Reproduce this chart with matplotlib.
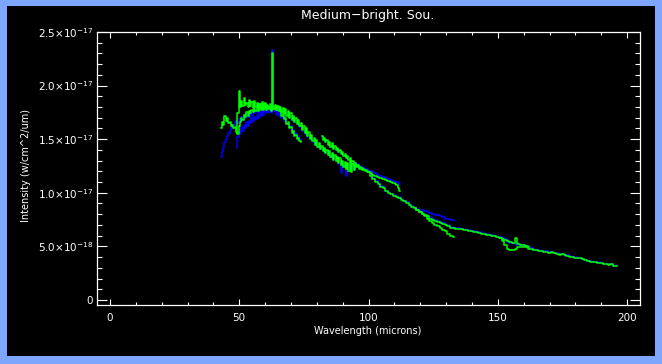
import matplotlib
matplotlib.use('Agg')
import matplotlib.pyplot as plt
from matplotlib.patches import Rectangle
from matplotlib.ticker import MultipleLocator, FixedLocator

# intensities are in units of 1e-17 W/cm2/um
SCALE = 1e-17

# detector SW1 (43 - 60 um)
sw1_wl = [43.0, 43.5, 44.0, 44.5, 45.0, 45.5, 46.0, 46.5, 47.0, 47.5,
          48.0, 48.5, 49.0, 49.5, 50.0, 50.5, 51.0, 51.5, 52.0, 52.5,
          53.0, 53.5, 54.0, 54.5, 55.0, 55.5, 56.0, 56.5, 57.0, 57.5,
          58.0, 58.5, 59.0, 59.5, 60.0]
sw1_blue = [1.33, 1.38, 1.42, 1.47, 1.50, 1.53, 1.56, 1.58, 1.60, 1.63,
            1.62, 1.66, 1.67, 1.65, 1.69, 1.66, 1.71, 1.68, 1.72, 1.70,
            1.74, 1.71, 1.73, 1.75, 1.72, 1.76, 1.74, 1.77, 1.75, 1.78,
            1.76, 1.74, 1.78, 1.76, 1.77]
sw1_green = [1.60, 1.66, 1.63, 1.72, 1.67, 1.70, 1.65, 1.66, 1.62, 1.63,
             1.60, 1.61, 1.57, 1.55, 1.62, 1.66, 1.70, 1.68, 1.73, 1.71,
             1.75, 1.72, 1.76, 1.74, 1.77, 1.75, 1.78, 1.76, 1.79, 1.77,
             1.80, 1.77, 1.79, 1.78, 1.80]

# detector SW2 (49 - 74 um), [OI] 63 um line
sw2_wl = [49.0, 49.5, 50.0, 50.5, 51.0, 51.5, 52.0, 52.5, 53.0, 53.5,
          54.0, 54.5, 55.0, 55.5, 56.0, 56.5, 57.0, 57.5, 58.0, 58.5,
          59.0, 59.5, 60.0, 60.5, 61.0, 61.5, 62.0, 62.5, 63.0, 63.5,
          64.0, 64.5, 65.0, 65.5, 66.0, 66.5, 67.0, 67.5, 68.0, 68.5,
          69.0, 69.5, 70.0, 70.5, 71.0, 71.5, 72.0, 72.5, 73.0, 73.5,
          74.0]
sw2_blue = [1.42, 1.52, 1.57, 1.55, 1.61, 1.58, 1.63, 1.60, 1.66, 1.62,
            1.67, 1.65, 1.70, 1.66, 1.71, 1.69, 1.73, 1.70, 1.74, 1.72,
            1.75, 1.73, 1.76, 1.74, 1.76, 1.75, 1.77, 1.74, 2.33, 1.76,
            1.77, 1.73, 1.76, 1.72, 1.74, 1.70, 1.71, 1.67, 1.68, 1.64,
            1.65, 1.61, 1.62, 1.58, 1.59, 1.55, 1.56, 1.52, 1.53, 1.50,
            1.49]
sw2_green = [1.56, 1.74, 1.95, 1.80, 1.86, 1.81, 1.88, 1.82, 1.84, 1.80,
             1.87, 1.81, 1.85, 1.79, 1.86, 1.80, 1.84, 1.79, 1.83, 1.78,
             1.85, 1.79, 1.82, 1.77, 1.81, 1.78, 1.80, 1.76, 2.30, 1.79,
             1.81, 1.77, 1.80, 1.76, 1.78, 1.72, 1.74, 1.69, 1.70, 1.64,
             1.66, 1.60, 1.61, 1.56, 1.58, 1.53, 1.54, 1.50, 1.51, 1.48,
             1.47]

# detector SW3 (57 - 95 um)
sw3_wl = [57.0, 57.5, 58.0, 58.5, 59.0, 59.5, 60.0, 60.5, 61.0, 61.5,
          62.0, 62.5, 63.0, 63.5, 64.0, 64.5, 65.0, 65.5, 66.0, 66.5,
          67.0, 67.5, 68.0, 68.5, 69.0, 69.5, 70.0, 70.5, 71.0, 71.5,
          72.0, 72.5, 73.0, 73.5, 74.0, 74.5, 75.0, 75.5, 76.0, 76.5,
          77.0, 77.5, 78.0, 78.5, 79.0, 79.5, 80.0, 80.5, 81.0, 81.5,
          82.0, 82.5, 83.0, 83.5, 84.0, 84.5, 85.0, 85.5, 86.0, 86.5,
          87.0, 87.5, 88.0, 88.5, 89.0, 89.5, 90.0, 90.5, 91.0, 91.5,
          92.0, 92.5, 93.0, 93.5, 94.0, 94.5, 95.0]
sw3_blue = [1.77, 1.74, 1.79, 1.75, 1.78, 1.76, 1.79, 1.75, 1.80, 1.77,
            1.79, 1.76, 1.80, 1.76, 1.81, 1.78, 1.80, 1.77, 1.78, 1.76,
            1.77, 1.74, 1.75, 1.72, 1.73, 1.70, 1.71, 1.68, 1.69, 1.66,
            1.67, 1.64, 1.65, 1.61, 1.62, 1.58, 1.59, 1.55, 1.56, 1.52,
            1.54, 1.50, 1.51, 1.47, 1.49, 1.45, 1.47, 1.43, 1.45, 1.41,
            1.43, 1.39, 1.41, 1.37, 1.39, 1.35, 1.37, 1.33, 1.35, 1.31,
            1.33, 1.30, 1.32, 1.27, 1.30, 1.18, 1.28, 1.25, 1.27, 1.16,
            1.26, 1.23, 1.25, 1.22, 1.24, 1.21, 1.23]
sw3_green = [1.80, 1.76, 1.83, 1.78, 1.82, 1.77, 1.84, 1.78, 1.82, 1.79,
             1.83, 1.77, 1.81, 1.78, 1.82, 1.77, 1.81, 1.76, 1.80, 1.75,
             1.79, 1.74, 1.78, 1.72, 1.76, 1.70, 1.74, 1.68, 1.72, 1.66,
             1.70, 1.64, 1.68, 1.62, 1.65, 1.59, 1.62, 1.56, 1.60, 1.53,
             1.57, 1.50, 1.54, 1.48, 1.51, 1.45, 1.49, 1.43, 1.46, 1.41,
             1.44, 1.39, 1.42, 1.37, 1.40, 1.35, 1.39, 1.33, 1.37, 1.31,
             1.35, 1.30, 1.33, 1.28, 1.32, 1.26, 1.30, 1.24, 1.29, 1.22,
             1.28, 1.20, 1.30, 1.19, 1.27, 1.21, 1.24]

# detector SW4 (82 - 112 um)
sw4_wl = [82.0, 82.5, 83.0, 83.5, 84.0, 84.5, 85.0, 85.5, 86.0, 86.5,
          87.0, 87.5, 88.0, 88.5, 89.0, 89.5, 90.0, 90.5, 91.0, 91.5,
          92.0, 92.5, 93.0, 93.5, 94.0, 94.5, 95.0, 95.5, 96.0, 96.5,
          97.0, 97.5, 98.0, 98.5, 99.0, 99.5, 100.0, 100.5, 101.0, 101.5,
          102.0, 102.5, 103.0, 103.5, 104.0, 104.5, 105.0, 105.5, 106.0, 106.5,
          107.0, 107.5, 108.0, 108.5, 109.0, 109.5, 110.0, 110.5, 111.0, 111.5,
          112.0]
sw4_blue = [1.52, 1.51, 1.50, 1.49, 1.48, 1.47, 1.46, 1.45, 1.45, 1.43,
            1.42, 1.42, 1.40, 1.40, 1.38, 1.37, 1.36, 1.35, 1.35, 1.33,
            1.33, 1.32, 1.31, 1.30, 1.29, 1.28, 1.28, 1.27, 1.26, 1.25,
            1.25, 1.24, 1.23, 1.23, 1.22, 1.21, 1.21, 1.20, 1.20, 1.19,
            1.19, 1.18, 1.18, 1.17, 1.17, 1.16, 1.16, 1.15, 1.15, 1.14,
            1.14, 1.13, 1.13, 1.12, 1.12, 1.11, 1.11, 1.10, 1.10, 1.09,
            1.08]
sw4_green = [1.53, 1.49, 1.51, 1.47, 1.49, 1.45, 1.47, 1.43, 1.46, 1.41,
             1.44, 1.40, 1.42, 1.38, 1.40, 1.36, 1.38, 1.34, 1.36, 1.32,
             1.34, 1.31, 1.32, 1.29, 1.30, 1.27, 1.28, 1.26, 1.26, 1.24,
             1.24, 1.23, 1.22, 1.21, 1.21, 1.20, 1.19, 1.19, 1.18, 1.17,
             1.17, 1.16, 1.16, 1.15, 1.15, 1.14, 1.14, 1.13, 1.13, 1.12,
             1.12, 1.11, 1.11, 1.10, 1.10, 1.09, 1.09, 1.08, 1.07, 1.04,
             1.02]

# detector LW1 (94 - 133 um)
lw1_wl = [94, 95, 96, 97, 98, 99, 100, 101, 102, 103,
          104, 105, 106, 107, 108, 109, 110, 111, 112, 113,
          114, 115, 116, 117, 118, 119, 120, 121, 122, 123,
          124, 125, 126, 127, 128, 129, 130, 131, 132, 133]
lw1_blue = [1.28, 1.26, 1.25, 1.23, 1.22, 1.21, 1.20, 1.17, 1.14, 1.11,
            1.09, 1.06, 1.05, 1.02, 1.01, 0.99, 0.98, 0.96, 0.96, 0.94,
            0.92, 0.91, 0.89, 0.88, 0.86, 0.85, 0.84, 0.84, 0.83, 0.82,
            0.81, 0.80, 0.79, 0.79, 0.78, 0.77, 0.76, 0.76, 0.75, 0.745]
lw1_green = [1.27, 1.25, 1.24, 1.22, 1.21, 1.20, 1.19, 1.16, 1.13, 1.10,
             1.08, 1.05, 1.04, 1.02, 1.00, 0.99, 0.97, 0.96, 0.95, 0.93,
             0.92, 0.90, 0.89, 0.87, 0.86, 0.84, 0.82, 0.80, 0.78, 0.76,
             0.74, 0.72, 0.70, 0.69, 0.67, 0.65, 0.64, 0.62, 0.60, 0.59]

# detector LW2 (118 - 162 um)
lw2_wl = [118, 119, 120, 121, 122, 123, 124, 125, 126, 127,
          128, 129, 130, 131, 132, 133, 134, 135, 136, 137,
          138, 139, 140, 141, 142, 143, 144, 145, 146, 147,
          148, 149, 150, 151, 152, 153, 154, 155, 156, 157,
          158, 159, 160, 161, 162]
lw2_blue = [0.86, 0.84, 0.82, 0.81, 0.79, 0.78, 0.77, 0.76, 0.75, 0.74,
            0.73, 0.72, 0.71, 0.70, 0.68, 0.675, 0.67, 0.67, 0.66, 0.66,
            0.655, 0.65, 0.645, 0.64, 0.635, 0.63, 0.625, 0.62, 0.615, 0.61,
            0.605, 0.60, 0.59, 0.585, 0.575, 0.565, 0.555, 0.545, 0.535, 0.53,
            0.525, 0.515, 0.515, 0.505, 0.495]
lw2_green = [0.86, 0.84, 0.82, 0.80, 0.79, 0.78, 0.76, 0.75, 0.74, 0.73,
             0.72, 0.71, 0.70, 0.69, 0.675, 0.67, 0.665, 0.665, 0.66, 0.655,
             0.65, 0.645, 0.64, 0.635, 0.63, 0.625, 0.62, 0.615, 0.61, 0.605,
             0.60, 0.595, 0.585, 0.58, 0.57, 0.56, 0.55, 0.54, 0.53, 0.58,
             0.52, 0.51, 0.51, 0.50, 0.49]

# detector LW3 (151 - 196 um)
lw3_wl = [151, 152, 153, 154, 155, 156, 157, 158, 159, 160,
          161, 162, 163, 164, 165, 166, 167, 168, 169, 170,
          171, 172, 173, 174, 175, 176, 177, 178, 179, 180,
          181, 182, 183, 184, 185, 186, 187, 188, 189, 190,
          191, 192, 193, 194, 195, 196]
lw3_blue = [0.59, 0.575, 0.56, 0.545, 0.535, 0.53, 0.52, 0.515, 0.51, 0.505,
            0.50, 0.49, 0.485, 0.475, 0.47, 0.465, 0.46, 0.455, 0.455, 0.45,
            0.445, 0.44, 0.435, 0.43, 0.425, 0.42, 0.415, 0.41, 0.405, 0.40,
            0.395, 0.395, 0.385, 0.375, 0.365, 0.36, 0.355, 0.355, 0.35, 0.345,
            0.34, 0.34, 0.335, 0.335, 0.325, 0.32]
lw3_green = [0.58, 0.55, 0.51, 0.48, 0.47, 0.47, 0.48, 0.49, 0.49, 0.495,
             0.49, 0.48, 0.475, 0.47, 0.465, 0.46, 0.455, 0.45, 0.45, 0.44,
             0.445, 0.435, 0.43, 0.42, 0.425, 0.415, 0.41, 0.40, 0.405, 0.395,
             0.39, 0.39, 0.38, 0.37, 0.36, 0.355, 0.355, 0.35, 0.345, 0.345,
             0.34, 0.335, 0.33, 0.335, 0.32, 0.32]

blue_segments = [(sw1_wl, sw1_blue), (sw2_wl, sw2_blue), (sw3_wl, sw3_blue),
                 (sw4_wl, sw4_blue), (lw1_wl, lw1_blue), (lw2_wl, lw2_blue),
                 (lw3_wl, lw3_blue)]
green_segments = [(sw1_wl, sw1_green), (sw2_wl, sw2_green), (sw3_wl, sw3_green),
                  (sw4_wl, sw4_green), (lw1_wl, lw1_green), (lw2_wl, lw2_green),
                  (lw3_wl, lw3_green)]

y_ticks = [0, 0.5, 1.0, 1.5, 2.0, 2.5]
y_tick_labels = ['0', r'$5.0{\times}10^{-18}$', r'$1.0{\times}10^{-17}$',
                 r'$1.5{\times}10^{-17}$', r'$2.0{\times}10^{-17}$',
                 r'$2.5{\times}10^{-17}$']
x_ticks = [0, 50, 100, 150, 200]

plt.rcParams['mathtext.fontset'] = 'dejavusans'
plt.rcParams['font.family'] = 'DejaVu Sans'

W, H = 662, 364
fig = plt.figure(figsize=(W / 100, H / 100), dpi=100, facecolor='#7ea6ff')
# black panel inside the blue frame, kept behind the axes
panel = Rectangle((7 / W, 1 - 356 / H), (655 - 7) / W, (356 - 6) / H,
                  transform=fig.transFigure, facecolor='black',
                  edgecolor='none', zorder=-10)
fig.add_artist(panel)

ax = fig.add_axes([97 / W, 1 - 305 / H, (640 - 97) / W, (305 - 32) / H])
ax.set_zorder(5)
ax.set_facecolor('black')

for wl, val in blue_segments:
    ax.plot(wl, [v * SCALE for v in val], color='#0000ff', lw=1.1,
            drawstyle='steps-mid')
for wl, val in green_segments:
    ax.plot(wl, [v * SCALE for v in val], color='#00ff00', lw=1.1,
            drawstyle='steps-mid')

ax.set_xlim(-5, 205)
ax.set_ylim(-0.047 * SCALE, 2.5 * SCALE)

ax.xaxis.set_major_locator(FixedLocator(x_ticks))
ax.xaxis.set_minor_locator(MultipleLocator(10))
ax.set_xticklabels([str(t) for t in x_ticks])
ax.yaxis.set_major_locator(FixedLocator([t * SCALE for t in y_ticks]))
ax.yaxis.set_minor_locator(MultipleLocator(0.1 * SCALE))
ax.set_yticklabels(y_tick_labels)
ax.yaxis.get_offset_text().set_visible(False)

for s in ax.spines.values():
    s.set_color('white')
    s.set_linewidth(0.9)
ax.tick_params(axis='both', which='both', direction='in', colors='white',
               top=True, right=True, width=0.8, labelsize=7.5)
ax.tick_params(axis='x', which='major', length=4, pad=6)
ax.tick_params(axis='x', which='minor', length=2)
ax.tick_params(axis='y', which='major', length=7.2, pad=3)
ax.tick_params(axis='y', which='minor', length=3.6)

fig.text(368 / W, 1 - 16 / H, 'Medium\u2212bright. Sou.', color='white',
         fontsize=9, ha='center', va='center')
fig.text(368 / W, 1 - 331 / H, 'Wavelength (microns)', color='white',
         fontsize=7, ha='center', va='center')
fig.text(26 / W, 1 - 166 / H, 'Intensity (w/cm^2/um)', color='white',
         fontsize=7, ha='center', va='center', rotation=90)

fig.savefig('out.png', dpi=100, facecolor=fig.get_facecolor())
